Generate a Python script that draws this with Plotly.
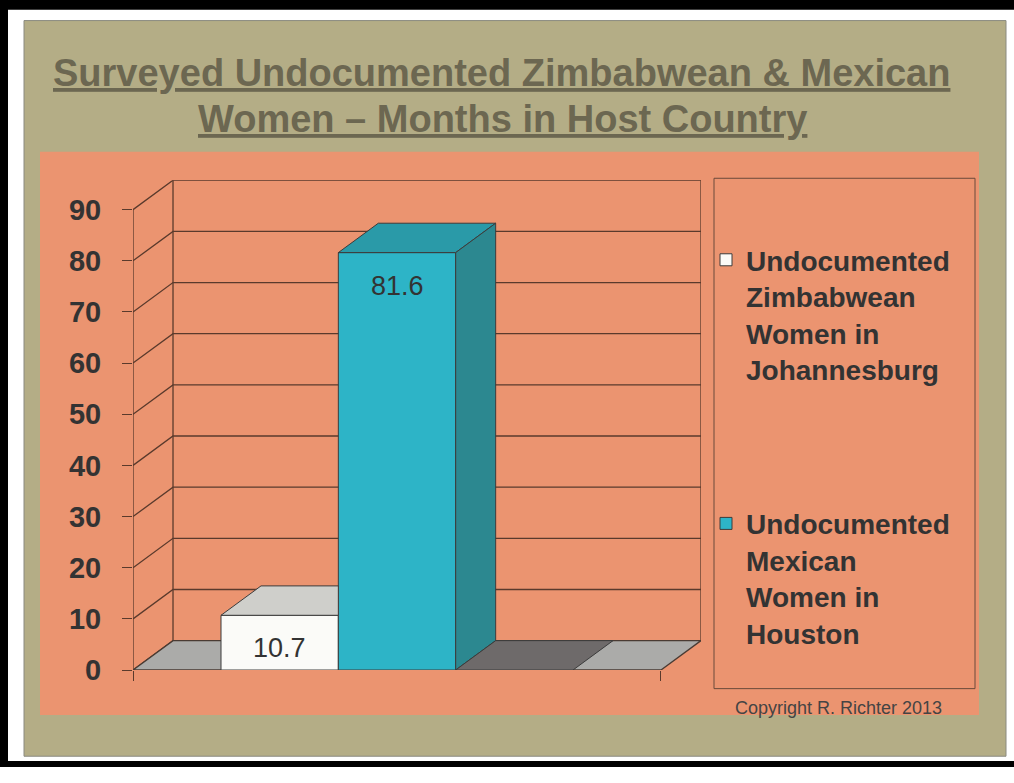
import plotly.graph_objects as go

# ---------------- data ----------------
series_names = [
    "Undocumented<br>Zimbabwean<br>Women in<br>Johannesburg",
    "Undocumented<br>Mexican<br>Women in<br>Houston",
    "Series 3",
]
series_values = [10.7, 81.6, 0.0]
series_labels = ["10.7", "81.6", ""]
show_in_legend = [True, True, False]
y_ticks = [0, 10, 20, 30, 40, 50, 60, 70, 80, 90]
title_lines = ["Surveyed Undocumented Zimbabwean & Mexican",
               "Women \u2013 Months in Host Country"]
copyright_text = "Copyright R. Richter 2013"

# ---------------- style ----------------
front_colors = ["#FBFBF8", "#2DB4C7", "#6E6A6A"]
top_colors = ["#CFCFCB", "#2A9AA8", "#6E6A6A"]
side_colors = ["#B5B5B1", "#2C8890", "#5C5959"]
EDGE = "#3c3c3c"
GRID = "#5a3a2c"
OLIVE = "#B4AD86"
ORANGE = "#EB9470"
TITLE_C = "#6C6751"
TEXT_C = "#333333"
FONT = "Liberation Sans, Arial, sans-serif"

W, H = 1014, 783
GAP, BAR_W = 0.75, 1.0
CAT_W = 2 * GAP + BAR_W * len(series_values)
DX, DY = 0.341, 5.745
YMAX = max(y_ticks)


def px(xp):
    return xp / W


def py(yp):
    return 1 - yp / H


def clip_x_max(poly, xc):
    out = []
    n = len(poly)
    for k in range(n):
        p, q = poly[k], poly[(k + 1) % n]
        pin, qin = p[0] <= xc + 1e-12, q[0] <= xc + 1e-12
        if pin:
            out.append(p)
        if pin != qin:
            t = (xc - p[0]) / (q[0] - p[0])
            out.append((xc, p[1] + t * (q[1] - p[1])))
    return out


fig = go.Figure()

# background panels (paper coordinates)
shapes = [
    dict(type="rect", xref="paper", yref="paper", x0=0, x1=1, y0=0, y1=1,
         fillcolor="black", line=dict(width=0), layer="below"),
    dict(type="rect", xref="paper", yref="paper", x0=px(8), x1=1, y0=py(777), y1=py(10),
         fillcolor="white", line=dict(width=0), layer="below"),
    dict(type="rect", xref="paper", yref="paper", x0=px(24), x1=px(1006), y0=py(772), y1=py(21),
         fillcolor=OLIVE, line=dict(color="#8a8a80", width=1), layer="below"),
    dict(type="rect", xref="paper", yref="paper", x0=px(40), x1=px(979), y0=py(730), y1=py(155),
         fillcolor=ORANGE, line=dict(width=0), layer="below"),
    dict(type="rect", xref="paper", yref="paper", x0=px(714), x1=px(975), y0=py(703), y1=py(182),
         fillcolor="rgba(0,0,0,0)", line=dict(color="#6a4a3a", width=1), layer="below"),
]

# walls / gridlines in data coordinates
for v in y_ticks:
    shapes.append(dict(type="path", xref="x", yref="y", layer="below",
                       path=f"M0,{v} L{DX},{v + DY} L{CAT_W + DX},{v + DY}",
                       line=dict(color=GRID, width=1.3)))
for xe in (DX, CAT_W + DX):
    shapes.append(dict(type="line", xref="x", yref="y", layer="below",
                       x0=xe, x1=xe, y0=DY, y1=YMAX + DY, line=dict(color=GRID, width=1.3)))
shapes.append(dict(type="line", xref="x", yref="y", layer="below",
                   x0=0, x1=0, y0=0, y1=YMAX, line=dict(color=GRID, width=1.3)))
# floor
shapes.append(dict(type="path", xref="x", yref="y", layer="below",
                   path=f"M0,0 L{CAT_W},0 L{CAT_W + DX},{DY} L{DX},{DY} Z",
                   fillcolor="#ABABA9", line=dict(color="#4a3b33", width=1.3)))

annotations = []

# bars
for i, (name, v) in enumerate(zip(series_names, series_values)):
    x0 = GAP + i * BAR_W
    x1 = x0 + BAR_W
    fig.add_trace(go.Bar(
        x=[(x0 + x1) / 2], y=[v], width=[BAR_W], name=name,
        marker=dict(color=front_colors[i], line=dict(color=EDGE, width=1)),
        showlegend=show_in_legend[i], legendgroup=f"g{i}", hoverinfo="skip"))

    top = [(x0, v), (x1, v), (x1 + DX, v + DY), (x0 + DX, v + DY)]
    side = [(x1, 0), (x1 + DX, DY), (x1 + DX, v + DY), (x1, v)]
    hidden = i + 1 < len(series_values) and series_values[i + 1] >= v + DY
    if hidden:
        top = clip_x_max(top, x1)
    faces = [(top, top_colors[i])]
    if not hidden and v > 0:
        faces.append((side, side_colors[i]))
    for poly, col in faces:
        xs = [p[0] for p in poly] + [poly[0][0]]
        ys = [p[1] for p in poly] + [poly[0][1]]
        fig.add_trace(go.Scatter(x=xs, y=ys, mode="lines", fill="toself",
                                 fillcolor=col, line=dict(color=EDGE, width=1),
                                 showlegend=False, hoverinfo="skip"))
    if series_labels[i]:
        annotations.append(dict(x=(x0 + x1) / 2, y=v, xref="x", yref="y", yshift=-33,
                                xanchor="center", yanchor="middle",
                                text=series_labels[i], showarrow=False,
                                font=dict(family=FONT, size=27, color=TEXT_C)))

# title
annotations.append(dict(x=px(501), y=py(75), xref="paper", yref="paper", showarrow=False,
                        xanchor="center", yanchor="middle",
                        text=f"<u>{title_lines[0]}</u>",
                        font=dict(family=FONT, size=38, color=TITLE_C, weight="bold")))
annotations.append(dict(x=px(502), y=py(121), xref="paper", yref="paper", showarrow=False,
                        xanchor="center", yanchor="middle",
                        text=f"<u>{title_lines[1]}</u>",
                        font=dict(family=FONT, size=38, color=TITLE_C, weight="bold")))
annotations.append(dict(x=px(838), y=py(723), xref="paper", yref="paper", showarrow=False,
                        xanchor="center", yanchor="middle",
                        text=copyright_text,
                        font=dict(family=FONT, size=18, color="#444444")))

fig.update_layout(
    width=W, height=H, margin=dict(l=0, r=0, t=0, b=0),
    paper_bgcolor="white", plot_bgcolor="rgba(0,0,0,0)",
    barmode="overlay", shapes=shapes, annotations=annotations,
    showlegend=True,
    legend=dict(x=px(706), y=py(240), xanchor="left", yanchor="top",
                bgcolor="rgba(0,0,0,0)", borderwidth=0, valign="top",
                tracegroupgap=115, itemclick=False, itemdoubleclick=False,
                font=dict(family=FONT, size=28, color=TEXT_C, weight="bold")),
    xaxis=dict(domain=[px(133), px(701)], range=[0, CAT_W + DX], showgrid=False,
               zeroline=False, showline=False, tickvals=[0, CAT_W], ticks="outside",
               ticklen=10, tickcolor=GRID, tickwidth=1.3, showticklabels=False,
               fixedrange=True),
    yaxis=dict(domain=[py(684), py(184)], range=[0, YMAX + DY], showgrid=False,
               zeroline=False, showline=False, tickvals=y_ticks, ticks="outside",
               ticklen=10, tickcolor=GRID, tickwidth=1.3, ticklabelstandoff=15,
               tickfont=dict(family=FONT, size=29, color=TEXT_C, weight="bold"),
               fixedrange=True),
)

fig.write_html("out.html", config={"displayModeBar": False},
               post_script="document.body.style.margin='0';document.body.style.overflow='hidden';")
